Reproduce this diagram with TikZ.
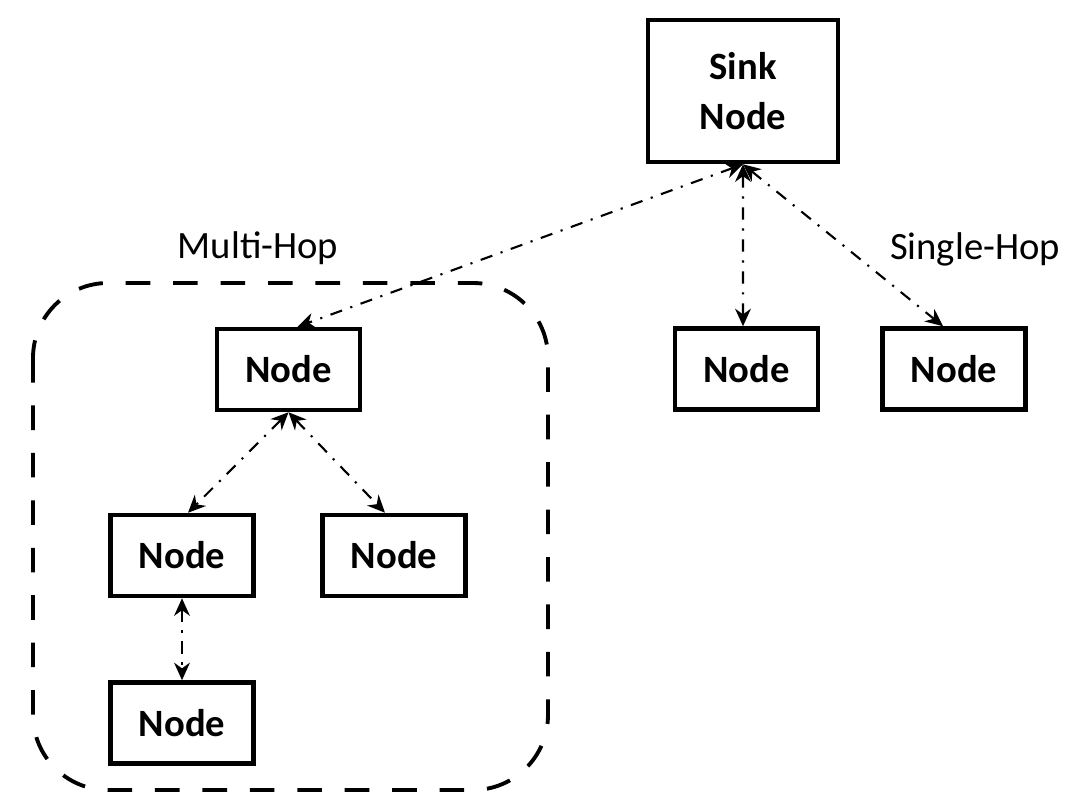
\documentclass[tikz,border=0pt]{standalone}
\usepackage{fontspec}
\setmainfont{Carlito}
\usetikzlibrary{arrows.meta,calc}
\begin{document}
\begin{tikzpicture}[x=0.02cm,y=-0.02cm,
  box/.style={draw,line width=2.6pt,fill=white,inner sep=0pt,
    font=\fontsize{22}{28}\selectfont\bfseries,align=center},
  smallbox/.style={box,minimum width=2.86cm,minimum height=1.62cm},
  link/.style={line width=1.2pt,dash pattern=on 7pt off 5pt on 1.2pt off 5pt,
    {Stealth[length=10pt,width=9pt]}-{Stealth[length=10pt,width=9pt]}},
  group/.style={draw,line width=2.2pt,dash pattern=on 14pt off 13pt,rounded corners=1.5cm},
  tag/.style={font=\fontsize{22}{26}\selectfont}]
  \useasboundingbox (0,0) rectangle (1081,796);

  % multi-hop cluster outline
  \draw[group] (33,283) rectangle (548,790);

  % nodes
  \node[box,minimum width=3.8cm,minimum height=2.84cm] (sink) at (743,91) {Sink\\Node};
  \node[smallbox] (top) at (288.5,369.5) {Node};
  \node[smallbox] (left) at (182,555.5) {Node};
  \node[smallbox] (right) at (394,555.5) {Node};
  \node[smallbox] (bottom) at (182,723) {Node};
  \node[smallbox] (s1) at (746.5,369) {Node};
  \node[smallbox] (s2) at (954,369) {Node};

  % labels
  \node[tag] (multi) at (258,248) {Multi-Hop};
  \node[tag] (single) at (975,249) {Single-Hop};

  % links
  \draw[link] (sink.south) -- ([xshift=0.18cm]top.north);
  \draw[link] (sink.south) -- ([xshift=-0.07cm]s1.north);
  \draw[link] (sink.south) -- ([xshift=-0.22cm]s2.north);
  \draw[link] (top.south) -- ([xshift=0.12cm]left.north);
  \draw[link] (top.south) -- ([xshift=-0.18cm]right.north);
  \draw[link] (left.south) -- (bottom.north);
\end{tikzpicture}
\end{document}
